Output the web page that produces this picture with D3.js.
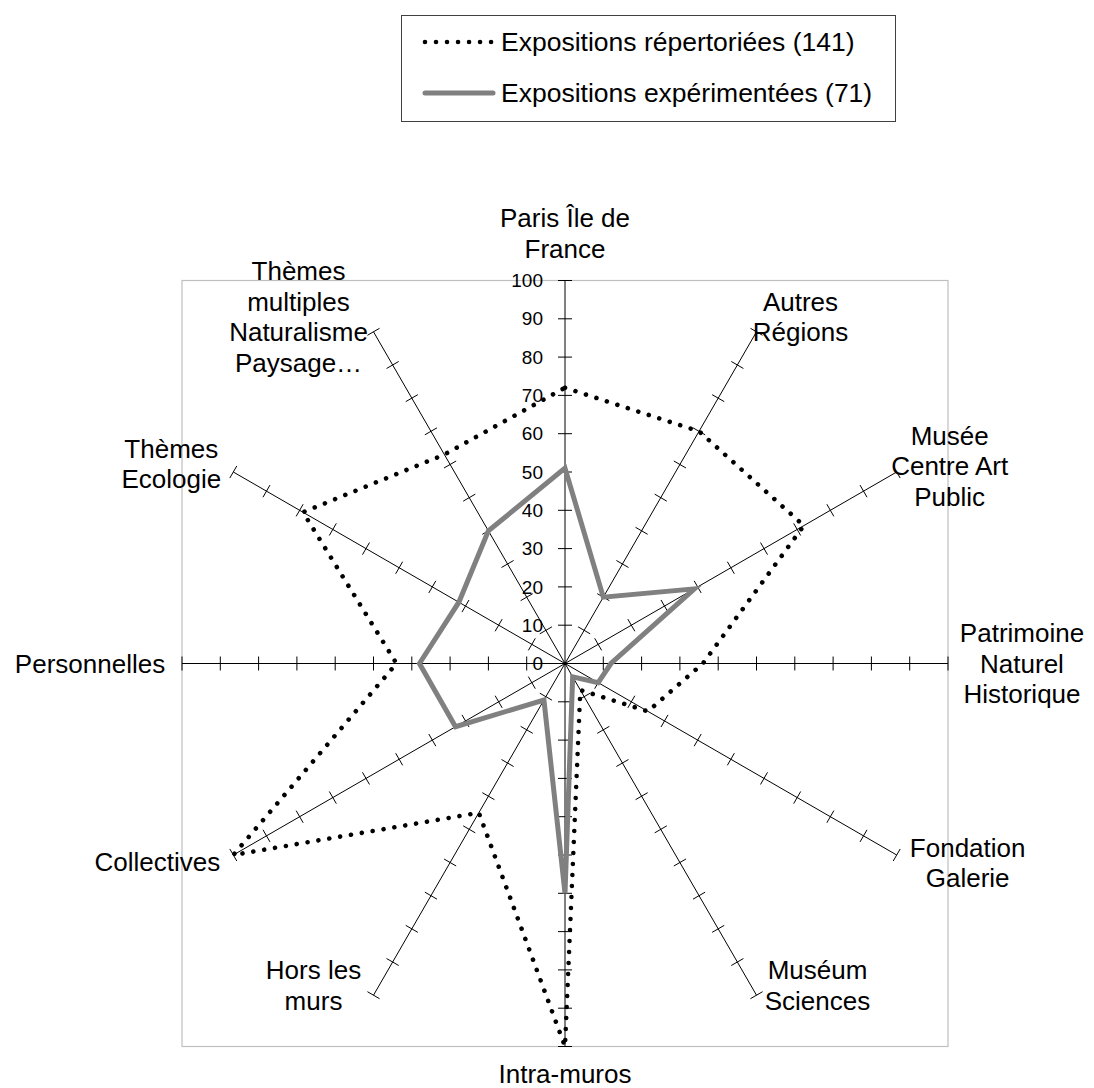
<!DOCTYPE html>
<html>
<head>
<meta charset="utf-8">
<script src="https://cdn.jsdelivr.net/npm/d3@7"></script>
<style>
  body { margin: 0; background: #fff; }
  text { font-family: "Liberation Sans", Arial, sans-serif; fill: #000; }
</style>
</head>
<body>
<div id="chart"></div>
<script>
// categories, clockwise from the top
var categories = [
    "Paris Île de\nFrance",
    "Autres\nRégions",
    "Musée\nCentre Art\nPublic",
    "Patrimoine\nNaturel\nHistorique",
    "Fondation\nGalerie",
    "Muséum\nSciences",
    "Intra-muros",
    "Hors les\nmurs",
    "Collectives",
    "Personnelles",
    "Thèmes\nEcologie",
    "Thèmes\nmultiples\nNaturalisme\nPaysage…"
];
var repertoriees = [72, 70, 72, 36, 25, 8, 100, 45, 100, 44, 79, 63];
var experimentees = [51, 20, 39, 12, 10, 4, 60, 11, 33, 38, 32, 40];
var seriesNames = ["Expositions répertoriées (141)", "Expositions expérimentées (71)"];
var tickValues = [0, 10, 20, 30, 40, 50, 60, 70, 80, 90, 100];

// label block centre, relative to the end of each axis
var labelOffsets = [
    [0, -47], [44, -15], [53, -6], [74, 0], [71, 8], [61, -10],
    [0, 27], [-60, -10], [-76, 7], [-92, 0], [-62, -8], [-75, -15]
];

var width = 1094, height = 1088;
var cx = 565, cy = 663.5, R = 383;

var svg = d3.select("#chart").append("svg")
    .attr("width", width)
    .attr("height", height);

svg.append("rect")
    .attr("width", width)
    .attr("height", height)
    .attr("fill", "#fff");

var rScale = d3.scaleLinear().domain([0, 100]).range([0, R]);
var angle = d3.scaleLinear().domain([0, categories.length]).range([0, 2 * Math.PI]);

// plot area border
svg.append("rect")
    .attr("x", cx - R)
    .attr("y", cy - R)
    .attr("width", 2 * R)
    .attr("height", 2 * R)
    .attr("fill", "none")
    .attr("stroke", "#bfbfbf")
    .attr("stroke-width", 1.2);

var g = svg.append("g")
    .attr("transform", "translate(" + cx + "," + cy + ")");

// axes with cross ticks
categories.forEach(function(c, i) {
    var a = angle(i);
    var end = d3.pointRadial(a, rScale(100));
    g.append("line")
        .attr("x1", 0).attr("y1", 0)
        .attr("x2", end[0]).attr("y2", end[1])
        .attr("stroke", "#000")
        .attr("stroke-width", 1);
    var px = Math.cos(a), py = Math.sin(a);
    g.selectAll(".tick" + i)
        .data(tickValues.filter(function(d) { return d > 0 }))
        .enter().append("line")
        .attr("x1", function(d) { return d3.pointRadial(a, rScale(d))[0] - 7 * px })
        .attr("y1", function(d) { return d3.pointRadial(a, rScale(d))[1] - 7 * py })
        .attr("x2", function(d) { return d3.pointRadial(a, rScale(d))[0] + 7 * px })
        .attr("y2", function(d) { return d3.pointRadial(a, rScale(d))[1] + 7 * py })
        .attr("stroke", "#000")
        .attr("stroke-width", 1);
});

// value labels along the top axis
g.selectAll(".tickLabel")
    .data(tickValues)
    .enter().append("text")
    .attr("x", -22)
    .attr("y", function(d) { return -rScale(d) })
    .attr("dy", "0.35em")
    .attr("text-anchor", "end")
    .style("font-size", "19px")
    .text(function(d) { return d });

// series
var radar = d3.lineRadial()
    .angle(function(d, i) { return angle(i) })
    .radius(function(d) { return rScale(d) })
    .curve(d3.curveLinearClosed);

g.append("path")
    .datum(repertoriees)
    .attr("d", radar)
    .attr("fill", "none")
    .attr("stroke", "#000")
    .attr("stroke-width", 4.6)
    .attr("stroke-linecap", "round")
    .attr("stroke-dasharray", "0.01,11");

g.append("path")
    .datum(experimentees)
    .attr("d", radar)
    .attr("fill", "none")
    .attr("stroke", "#808080")
    .attr("stroke-width", 5)
    .attr("stroke-linejoin", "miter");

// category labels
var lineH = 30.5;
categories.forEach(function(c, i) {
    var end = d3.pointRadial(angle(i), rScale(100));
    var lines = c.split("\n");
    var bx = end[0] + labelOffsets[i][0];
    var by = end[1] + labelOffsets[i][1];
    var t = g.append("text")
        .attr("text-anchor", "middle")
        .style("font-size", "26px");
    lines.forEach(function(l, k) {
        t.append("tspan")
            .attr("x", bx)
            .attr("y", by + (k - (lines.length - 1) / 2) * lineH)
            .attr("dy", "0.35em")
            .text(l);
    });
});

// legend
var legend = svg.append("g");
legend.append("rect")
    .attr("x", 401.5)
    .attr("y", 15.5)
    .attr("width", 494)
    .attr("height", 106)
    .attr("fill", "#fff")
    .attr("stroke", "#404040")
    .attr("stroke-width", 1);

var legendItems = legend.selectAll(".item")
    .data(seriesNames)
    .enter().append("g")
    .attr("transform", function(d, i) { return "translate(425," + (42 + i * 51) + ")" });

legendItems.append("line")
    .attr("x1", 0).attr("x2", 68)
    .attr("y1", 0).attr("y2", 0)
    .attr("stroke", function(d, i) { return i === 0 ? "#000" : "#808080" })
    .attr("stroke-width", function(d, i) { return i === 0 ? 4.6 : 5 })
    .attr("stroke-linecap", "round")
    .attr("stroke-dasharray", function(d, i) { return i === 0 ? "0.01,11" : null });

legendItems.append("text")
    .attr("x", 76)
    .attr("y", 0)
    .attr("dy", "0.35em")
    .style("font-size", "26.5px")
    .text(function(d) { return d });
</script>
</body>
</html>
